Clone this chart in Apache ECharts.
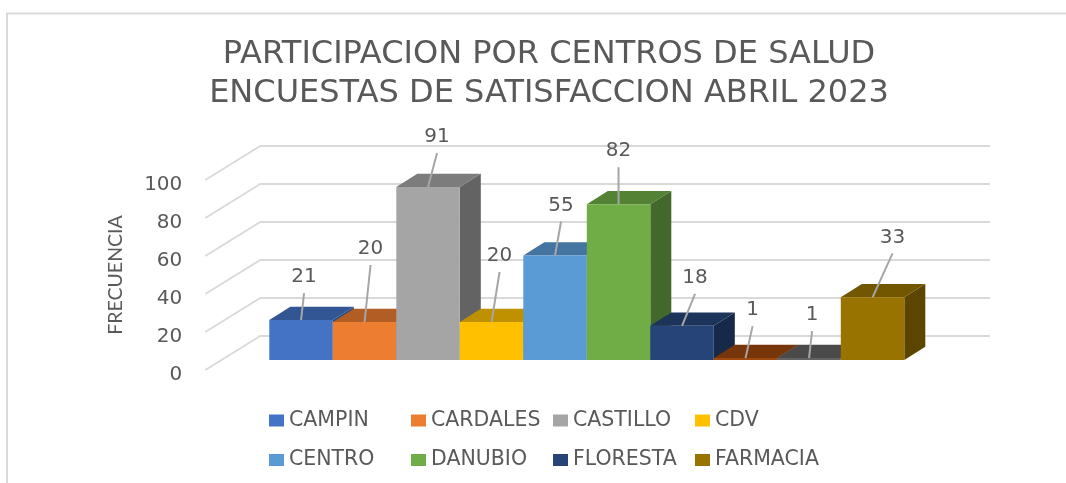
<!DOCTYPE html>
<html>
<head>
<meta charset="utf-8">
<style>html,body{margin:0;padding:0;background:#fff}#c{width:1066px;height:483px}</style>
<script src="https://cdn.jsdelivr.net/npm/echarts@6/dist/echarts.min.js"></script>
</head>
<body>
<div id="c"></div>
<script>
// Data
const centros = ['CAMPIN','CARDALES','CASTILLO','CDV','CENTRO','DANUBIO','FLORESTA','SIN NOMBRE 1','SIN NOMBRE 2','FARMACIA'];
const encuestas = [21,20,91,20,55,82,18,1,1,33];
const yTicks = [0,20,40,60,80,100];
const legendCol1 = ['CAMPIN','CENTRO'];
const legendCol2 = ['CARDALES','DANUBIO'];
const legendCol3 = ['CASTILLO','FLORESTA'];
const legendCol4 = ['CDV','FARMACIA'];

// Styles
const front = ['#4472c4','#ed7d31','#a5a5a5','#ffc000','#5b9bd5','#70ad47','#264478','#9e480e','#636363','#997300'];
const top_ = ['#325693','#b25d24','#7c7c7c','#bf9000','#4474a0','#548235','#1c335a','#763609','#4a4a4a','#735600'];
const side = ['#2a4a80','#8e4a1d','#636363','#997300','#365d80','#43682b','#172948','#5f2b07','#3b3b3b','#5c4500'];
const leader = [[3,-27],[6,-57],[9,-34],[8,-50],[6,-34],[0,-37],[13,-32],[7,-32],[3,-27],[20,-44]];
const FONT = '"DejaVu Sans"';
const TXT = '#595959';
const GRID = '#d9d9d9';
const BAR_LIFT = {dx:0, dy:-10};    // bar plane vs. front edge of floor
const DEPTH = {dx:21, dy:-13.3};    // bar depth
const WALL = {dx:55, dy:-34};       // floor depth

function wallItem(params, api){
  const p = api.coord([0, api.value(1)]);
  const cs = params.coordSys;
  const x0 = cs.x - 64, y0 = p[1];
  const xb = x0 + WALL.dx, yb = y0 + WALL.dy;
  return {type:'polyline', silent:true,
    shape:{points:[[x0,y0],[xb,yb],[990,yb]]},
    style:{stroke:GRID, lineWidth:1.8, fill:null}};
}

function barItem(i){
  return function(params, api){
    const top = api.coord([i, api.value(1)]);
    const base = api.coord([i, 0]);
    const w = api.size([1,0])[0];
    const xl = top[0]-w/2, xr = top[0]+w/2;
    const yt = top[1]+BAR_LIFT.dy, yb = base[1]+BAR_LIFT.dy;
    const d = DEPTH;
    const cx = top[0];
    const [lx,ly] = leader[i];
    return {type:'group', children:[
      {type:'polygon', shape:{points:[[xr,yb],[xr+d.dx,yb+d.dy],[xr+d.dx,yt+d.dy],[xr,yt]]}, style:{fill:side[i]}},
      {type:'polygon', shape:{points:[[xl,yt],[xr,yt],[xr+d.dx,yt+d.dy],[xl+d.dx,yt+d.dy]]}, style:{fill:top_[i]}},
      {type:'rect', shape:{x:xl,y:yt,width:w,height:yb-yt}, style:{fill:front[i]}},
      {type:'line', shape:{x1:cx,y1:yt,x2:cx+lx,y2:yt+ly}, style:{stroke:'#a6a6a6',lineWidth:2}, z2:50},
      {type:'text', z2:51, style:{x:cx+lx,y:yt+ly-16,text:String(api.value(1)),textAlign:'center',textVerticalAlign:'middle',fill:TXT,fontSize:20,fontFamily:FONT}}
    ]};
  };
}

const series = [{
  type:'custom', name:'wall', silent:true, z:1, clip:false,
  encode:{x:0,y:1},
  data: yTicks.map(v=>[0,v]),
  renderItem: wallItem
}].concat(centros.map((name,i)=>({
  type:'custom', name:name, z:2+i, clip:false,
  encode:{x:0,y:1},
  itemStyle:{color:front[i]},
  data:[[i,encuestas[i]]],
  renderItem: barItem(i)
})));

function legendAt(left, data){
  return {show:true, orient:'vertical', left:left, top:410, data:data, itemWidth:15, itemHeight:12, itemGap:18.5,
    icon:'rect', selectedMode:false, padding:0,
    textStyle:{color:TXT,fontSize:20.5,fontFamily:FONT}};
}

const chart = echarts.init(document.getElementById('c'), null, {renderer:'canvas'});
chart.setOption({
  animation:false,
  backgroundColor:'#fff',
  title:{
    text:'PARTICIPACION POR CENTROS DE SALUD\nENCUESTAS DE SATISFACCION ABRIL 2023',
    left:544, top:30, textAlign:'center',
    textStyle:{color:TXT,fontFamily:FONT,fontSize:32,fontWeight:'normal',lineHeight:39}
  },
  legend:[legendAt(269,legendCol1),legendAt(411,legendCol2),legendAt(553,legendCol3),legendAt(695,legendCol4)],
  grid:{left:269.3,top:180,width:635,height:190,containLabel:false},
  xAxis:{type:'category',data:centros,show:false,boundaryGap:true},
  yAxis:{type:'value',min:0,max:100,interval:20,offset:64,
    axisLine:{show:false},axisTick:{show:false},splitLine:{show:false},
    axisLabel:{color:TXT,fontSize:20,fontFamily:FONT,margin:23,verticalAlign:'top',lineHeight:10},
    name:'FRECUENCIA',nameLocation:'middle',nameRotate:90,nameGap:80,
    nameTextStyle:{color:TXT,fontSize:19.5,fontFamily:'Lato'}
  },
  graphic:[
    {type:'polyline',silent:true,shape:{points:[[7,483],[7,13.5],[1066,13.5]]},style:{stroke:'#d9d9d9',lineWidth:2,fill:null}}
  ],
  series:series
});
</script>
</body>
</html>
